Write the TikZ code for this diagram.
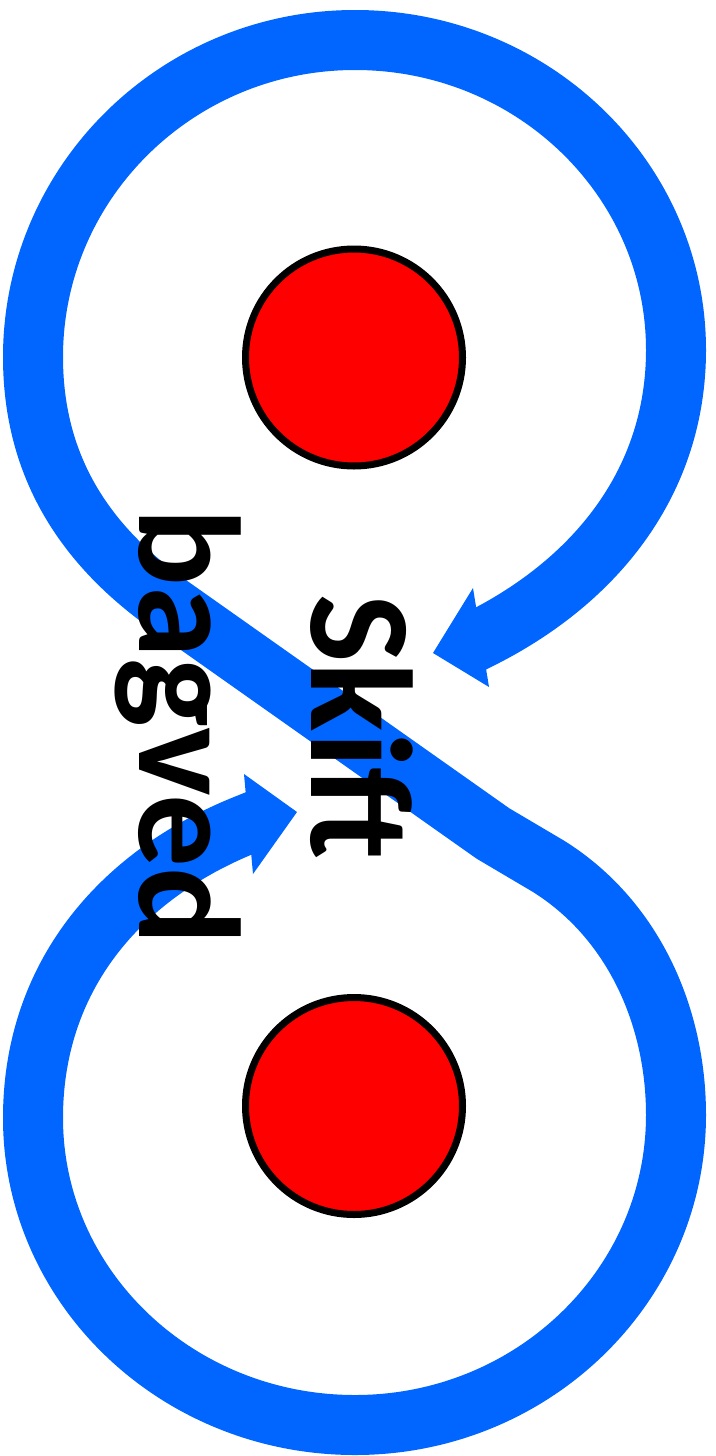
\documentclass[tikz,border=0pt]{standalone}
\usepackage{fontspec}
\setmainfont{Carlito}
\definecolor{loopblue}{RGB}{0,102,255}
\begin{document}
\begin{tikzpicture}[x=1pt,y=-1pt,
  band/.style={draw=loopblue, line width=60pt, line cap=butt, line join=round},
  tiparrow/.style={fill=loopblue},
  ball/.style={circle, draw=black, line width=7pt, fill=red, minimum size=217pt, inner sep=0pt},
  lbl/.style={font=\bfseries\fontsize{145}{172}\selectfont, align=center, rotate=-90, inner sep=0pt}]
\useasboundingbox (0,0) rectangle (715,1456);
\node[ball] (top) at (354,357.5) {};
\node[ball] (bot) at (354,1106) {};
\coordinate (Aend) at (471.3,643.4);
\coordinate (Abase) at (482,638);
\coordinate (Bbase) at (248.5,823.5);
\coordinate (Bend) at (259.7,819);
\coordinate (Atip) at (433,653);
\coordinate (Aw1) at (473,588);
\coordinate (Aw2) at (489,687);
\coordinate (Btip) at (297,812);
\coordinate (Bw1) at (244,774);
\coordinate (Bw2) at (253,874);
\draw[band] (Aend) -- (Abase) .. controls (597.7,579.5) and (676,480) .. (676,350)
  .. controls (676,178.8) and (532.3,40) .. (355,40)
  .. controls (177.2,40) and (33,182) .. (33,357)
  .. controls (33,470) and (88.3,547.9) .. (170,605.5)
  -- (493,833.5) -- (548,866)
  .. controls (632.8,918.8) and (676,1015.6) .. (676,1115)
  .. controls (676,1286) and (532.3,1425) .. (355,1425)
  .. controls (177.2,1425) and (33,1287.6) .. (33,1118)
  .. controls (33,978) and (118.3,874.8) .. (Bbase) -- (Bend);
\fill[tiparrow] (Atip) -- (Aw1) -- (Aw2) -- cycle;
\fill[tiparrow] (Btip) -- (Bw1) -- (Bw2) -- cycle;
\node[lbl] (txt) at (264,727) {Skift\\bagved};
\end{tikzpicture}
\end{document}
